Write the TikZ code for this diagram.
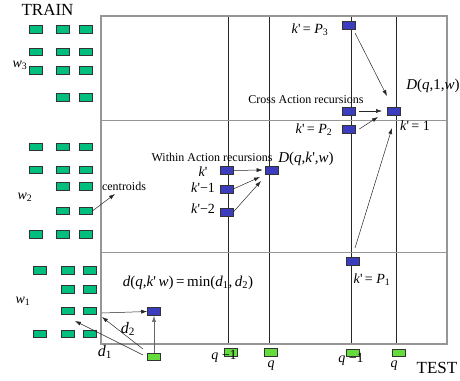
\documentclass[tikz,border=0pt]{standalone}
\usepackage{fontspec}
\setmainfont{Liberation Serif}
\usetikzlibrary{arrows.meta}
\definecolor{tg}{RGB}{0,190,125}
\definecolor{lg}{RGB}{100,220,60}
\definecolor{bl}{RGB}{60,60,190}
\definecolor{fr}{RGB}{150,150,150}
\newcommand{\pr}{\textup{\textquotesingle}}
\begin{document}
\begin{tikzpicture}[x=1pt,y=-1pt,
  tr/.style={draw=black!80, fill=tg, minimum width=13pt, minimum height=7.5pt, inner sep=0pt, line width=0.6pt},
  te/.style={tr, fill=lg},
  bq/.style={draw=black!80, fill=bl, minimum width=13pt, minimum height=8pt, inner sep=0pt, line width=0.6pt},
  arr/.style={-{Latex[length=6pt,width=4pt]}, line width=0.5pt, black!85},
  lbl/.style={inner sep=0pt, font=\fontsize{14}{14}\selectfont},
  sm/.style={inner sep=0pt, font=\fontsize{12}{12}\selectfont},
  big/.style={inner sep=0pt, font=\fontsize{17}{17}\selectfont}]
\useasboundingbox (0,0) rectangle (460,380);
% grid
\draw[black!85, line width=0.6pt] (228,16) -- (228,344) (269,16) -- (269,344) (351,16) -- (351,344) (396,16) -- (396,344);
\draw[fr, line width=1pt] (101,120.5) -- (447,120.5) (101,252.5) -- (447,252.5);
\draw[fr, line width=1.3pt] (101,16) rectangle (447,344);
% train squares
\foreach \y/\n in {29.5/a,52/b,70.5/c,147/e,170/f,234.5/i}{
  \node[tr] (t\n1) at (35.5,\y) {};
  \node[tr] (t\n2) at (62.5,\y) {};
  \node[tr] (t\n3) at (85.5,\y) {};}
\foreach \y/\n in {97.5/d,186.5/g,211/h}{
  \node[tr] (t\n2) at (62.5,\y) {};
  \node[tr] (t\n3) at (85.5,\y) {};}
\foreach \y/\n in {270.5/j,334/m}{
  \node[tr] (t\n1) at (40,\y) {};
  \node[tr] (t\n2) at (67.5,\y) {};
  \node[tr] (t\n3) at (90,\y) {};}
\foreach \y/\n in {289.5/k,311/l}{
  \node[tr] (t\n2) at (67.5,\y) {};
  \node[tr] (t\n3) at (90,\y) {};}
% blue squares
\node[bq] (p3) at (348.5,25) {};
\node[bq] (cx) at (348.5,111) {};
\node[bq] (dt) at (393.5,111) {};
\node[bq] (p2) at (348.5,129) {};
\node[bq] (p1) at (352.5,261.5) {};
\node[bq] (wt) at (271.5,170) {};
\node[bq] (k0) at (226.5,170.5) {};
\node[bq] (k1) at (226.5,189) {};
\node[bq] (k2) at (226.5,212) {};
\node[bq] (dq) at (154,311.5) {};
% test squares
\node[te] (g0) at (154,357) {};
\node[te] (g1) at (230.5,352.5) {};
\node[te] (g2) at (271,352.5) {};
\node[te] (g3) at (352.5,353) {};
\node[te] (g4) at (398.5,353) {};
% labels
\node[big] (train) at (47.5,10) {TRAIN};
\node[big] (test) at (437,368) {TEST};
\node[lbl] (w3) at (20,65) {\textit{w}\textsubscript{3}};
\node[lbl] (w2) at (25,197) {\textit{w}\textsubscript{2}};
\node[lbl] (w1) at (23,301) {\textit{w}\textsubscript{1}};
\node[sm] (cen) at (124,186) {centroids};
\node[lbl, font=\fontsize{15}{15}\selectfont] (dmin) at (188,283) {\textit{d}(\textit{q},\textit{k}\pr\,\textit{w})\,=\,min(\textit{d}\textsubscript{1},\,\textit{d}\textsubscript{2})};
\node[lbl, font=\fontsize{16}{16}\selectfont] (d2) at (128,329) {\textit{d}\textsubscript{2}};
\node[lbl, font=\fontsize{16}{16}\selectfont] (d1) at (105,352) {\textit{d}\textsubscript{1}};
\node[lbl] (lp1) at (372,280) {\textit{k}\pr\,= \textit{P}\textsubscript{1}};
\node[lbl] (lp2) at (314,130) {\textit{k}\pr\,= \textit{P}\textsubscript{2}};
\node[lbl] (lp3) at (310,30) {\textit{k}\pr\,= \textit{P}\textsubscript{3}};
\node[lbl] (lk1) at (415,126) {\textit{k}\pr\,= 1};
\node[lbl, font=\fontsize{15}{15}\selectfont] (ld1) at (433,86) {\textit{D}(\textit{q},1,\textit{w})};
\node[sm] (cross) at (306,100) {Cross Action recursions};
\node[sm] (within) at (212,157) {Within Action recursions};
\node[lbl, font=\fontsize{15}{15}\selectfont] (ldk) at (306,159) {\textit{D}(\textit{q},\textit{k}\pr,\textit{w})};
\node[lbl] (lk0) at (203,171.5) {\textit{k}\pr};
\node[lbl] (lkm1) at (203,188) {\textit{k}\pr−1};
\node[lbl] (lkm2) at (203,209) {\textit{k}\pr−2};
\node[lbl] (q1) at (224,356) {\textit{q} −1};
\node[lbl] (q2) at (271,366) {\textit{q}};
\node[lbl] (q3) at (351,359) {\textit{q} −1};
\node[lbl] (q4) at (394,366) {\textit{q}};
% arrow end points
\coordinate (cA) at (115,194);
\coordinate (fA) at (102,313);
\coordinate (fB) at (102,317);
\coordinate (fC) at (75,321);
\coordinate (wB) at (260,177);
\coordinate (wC) at (261,181);
\coordinate (cB) at (382,111);
\coordinate (cC) at (378,117);
\coordinate (cD) at (387,96);
\coordinate (cE) at (392,128);
\coordinate (s1) at (355,33);
\coordinate (s2) at (355,248);
\coordinate (s3) at (143,349);
\coordinate (s4) at (143,355);
% arrows
\draw[arr] (th3.east) -- (cA);
\draw[arr] (fA) -- (dq.west);
\draw[arr, black!60] (g0.north) -- (dq.south);
\draw[arr] (s3) -- (fB);
\draw[arr] (s4) -- (fC);
\draw[arr] (k0.east) -- ([xshift=-2pt]wt.west);
\draw[arr] (k1.east) -- (wB);
\draw[arr] (k2.east) -- (wC);
\draw[arr] ([xshift=4pt]cx.east) -- (cB);
\draw[arr] ([xshift=4pt]p2.east) -- (cC);
\draw[arr] (s1) -- (cD);
\draw[arr] (s2) -- (cE);
\end{tikzpicture}
\end{document}
